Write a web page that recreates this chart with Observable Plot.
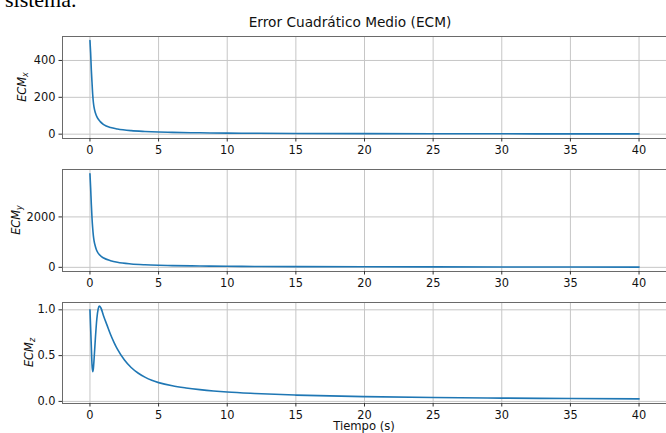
<!DOCTYPE html>
<html>
<head>
<meta charset="utf-8">
<script src="https://cdn.jsdelivr.net/npm/d3@7"></script>
<script src="https://cdn.jsdelivr.net/npm/@observablehq/plot@0.6"></script>
<style>
  html, body { margin: 0; padding: 0; background: #fff; }
  #root { position: relative; width: 666px; height: 433px; overflow: hidden; background: #fff; }
  .abs { position: absolute; left: 0; }
  #pre { position: absolute; left: 5px; top: -11px; font-family: "Liberation Serif", serif; font-size: 22px; line-height: 22px; color: #000; white-space: nowrap; }
  #title { position: absolute; left: 0; width: 700px; top: 14px; text-align: center; font-family: "DejaVu Sans", sans-serif; font-size: 13.7px; line-height: 16px; color: #111; }
</style>
</head>
<body>
<div id="root">
  <div id="pre">sistema.</div>
  <div id="title">Error Cuadrático Medio (ECM)</div>
</div>
<script>
// ---- data ----
const tiempo = [0, 0.05, 0.1, 0.15, 0.2, 0.25, 0.3, 0.4, 0.5, 0.75, 1, 1.5, 2, 3, 4, 5, 6, 8, 10, 12, 15, 20, 25, 30, 35, 40];
const ecmX   = [508, 440, 350, 280, 215, 172, 145, 115, 95, 68, 52, 36, 28, 19, 14.5, 11.5, 9.6, 7.3, 5.9, 5, 4, 3, 2.4, 2, 1.7, 1.5];
const ecmY   = [3710, 3150, 2500, 1950, 1550, 1250, 1050, 820, 660, 470, 370, 265, 200, 135, 102, 82, 69, 52, 42, 35, 28, 21, 17, 14, 12, 10.5];

const tiempoZ = [0, 0.05, 0.1, 0.15, 0.2, 0.25, 0.3, 0.4, 0.5, 0.6, 0.68, 0.8, 1, 1.25, 1.5, 1.75, 2, 2.5, 3, 3.5, 4, 4.5, 5, 6, 7, 8, 9, 10, 12, 15, 20, 25, 30, 35, 40];
const ecmZ    = [1.0, 0.8, 0.6, 0.4, 0.325, 0.36, 0.46, 0.7, 0.9, 1.01, 1.04, 1.02, 0.93, 0.83, 0.73, 0.645, 0.57, 0.455, 0.37, 0.31, 0.265, 0.23, 0.205, 0.17, 0.147, 0.129, 0.114, 0.102, 0.086, 0.069, 0.052, 0.042, 0.036, 0.031, 0.027];

const xTicks = [0, 5, 10, 15, 20, 25, 30, 35, 40];
const yTicksX = [0, 200, 400];
const yTicksY = [0, 2000];
const yTicksZ = [0, 0.5, 1.0];

const titulo = "Error Cuadrático Medio (ECM)";
const xLabel = "Tiempo (s)";
const yLabels = [["ECM", "x"], ["ECM", "y"], ["ECM", "z"]];

// ---- drawing ----
const root = document.getElementById("root");
const blue = "#1f77b4";
const gridColor = "#c6c6c6";

function panel({t, v, yDomain, yTicks, yFormat, top, mTop, plotH, mBottom, label, labelX}) {
  const data = t.map((d, i) => ({t: d, v: v[i]}));
  const svg = Plot.plot({
    width: 666,
    height: mTop + plotH + mBottom,
    marginLeft: 62,
    marginRight: 0,
    marginTop: mTop,
    marginBottom: mBottom,
    style: {fontFamily: "DejaVu Sans, sans-serif", fontSize: "11.4px", color: "#111", background: "transparent", overflow: "visible"},
    x: {domain: [-2, 42]},
    y: {domain: yDomain},
    marks: [
      Plot.gridX(xTicks, {stroke: gridColor, strokeOpacity: 1}),
      Plot.gridY(yTicks, {stroke: gridColor, strokeOpacity: 1}),
      Plot.line(data, {x: "t", y: "v", stroke: blue, strokeWidth: 1.6, curve: "monotone-x"}),
      Plot.frame({stroke: "#6a6a6a"}),
      Plot.axisX({ticks: xTicks, tickSize: 3.5, tickPadding: 3.5, label: null, stroke: "#333"}),
      Plot.axisY({ticks: yTicks, tickSize: 3.5, tickPadding: 3.5, tickFormat: yFormat, label: null, stroke: "#333"})
    ]
  });
  svg.classList.add("abs");
  svg.style.top = top + "px";
  const cy = mTop + plotH / 2;
  const txt = d3.select(svg).append("text")
    .attr("transform", `translate(${labelX},${cy}) rotate(-90)`)
    .attr("text-anchor", "middle")
    .attr("font-family", "DejaVu Sans, sans-serif")
    .attr("font-size", "11.4px")
    .attr("fill", "#111");
  txt.append("tspan").attr("font-style", "italic").text(label[0]);
  txt.append("tspan").attr("font-style", "italic").attr("font-size", "8px").attr("dy", "0.3em").text(label[1]);
  root.appendChild(svg);
  return svg;
}

panel({t: tiempo, v: ecmX, yDomain: [-23.5, 530], yTicks: yTicksX, yFormat: d3.format("d"),
  top: 26, mTop: 10, plotH: 102, mBottom: 24, label: yLabels[0], labelX: 26});
panel({t: tiempo, v: ecmY, yDomain: [-165, 3880], yTicks: yTicksY, yFormat: d3.format("d"),
  top: 160, mTop: 9, plotH: 102, mBottom: 22, label: yLabels[1], labelX: 20});
const p3 = panel({t: tiempoZ, v: ecmZ, yDomain: [-0.023, 1.08], yTicks: yTicksZ, yFormat: d3.format(".1f"),
  top: 292, mTop: 10, plotH: 101, mBottom: 30, label: yLabels[2], labelX: 33});

d3.select(p3).append("text")
  .attr("x", 364).attr("y", 137.5)
  .attr("text-anchor", "middle")
  .attr("font-family", "DejaVu Sans, sans-serif")
  .attr("font-size", "11.6px")
  .attr("fill", "#111")
  .text(xLabel);
</script>
</body>
</html>
